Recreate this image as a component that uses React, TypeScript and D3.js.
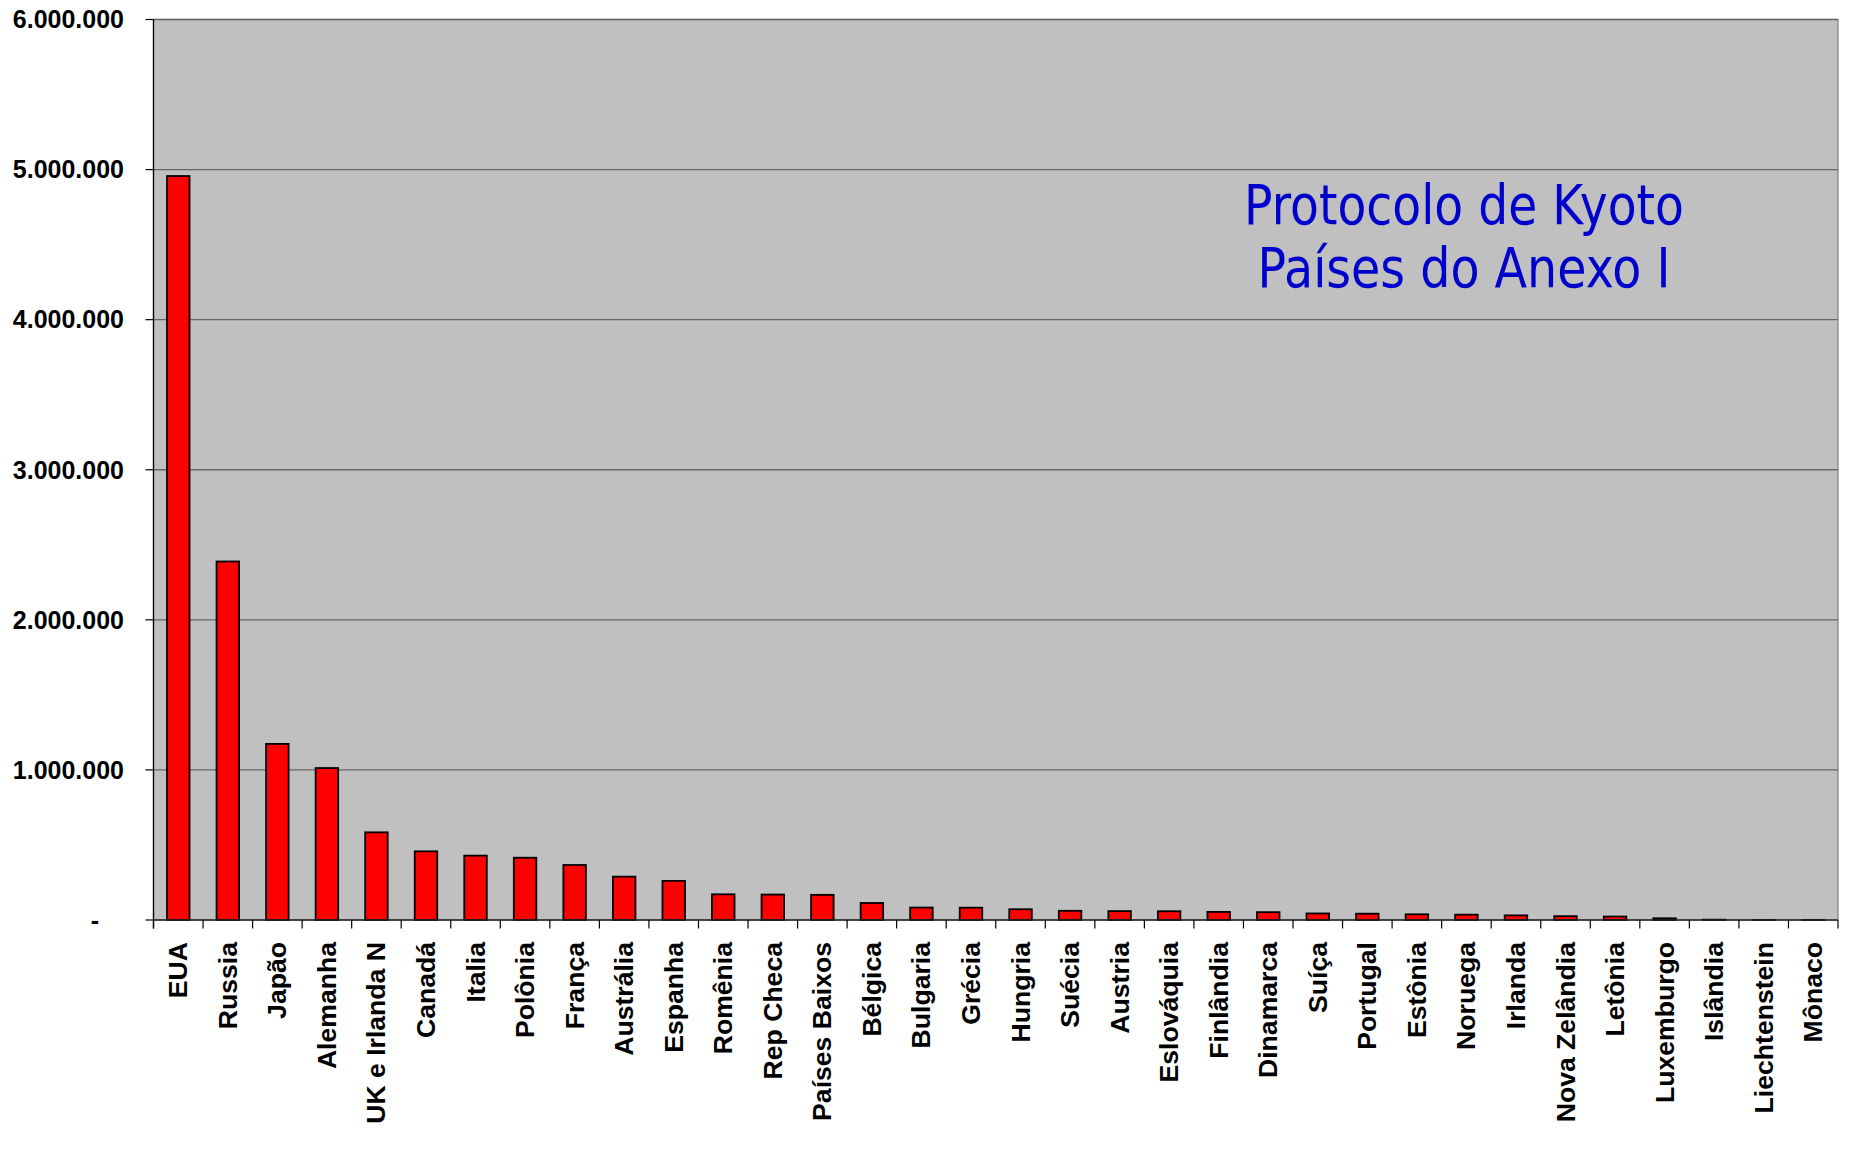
import React from "react";
import * as d3 from "d3";

const countries = [
  "EUA", "Russia", "Japão", "Alemanha", "UK e Irlanda N", "Canadá", "Italia", "Polônia",
  "França", "Austrália", "Espanha", "Romênia", "Rep Checa", "Países Baixos", "Bélgica",
  "Bulgaria", "Grécia", "Hungria", "Suécia", "Austria", "Eslováquia", "Finlândia",
  "Dinamarca", "Suíça", "Portugal", "Estônia", "Noruega", "Irlanda", "Nova Zelândia",
  "Letônia", "Luxemburgo", "Islândia", "Liechtenstein", "Mônaco",
];

const emissions = [
  4957022, 2388720, 1173360, 1012443, 584078, 457441, 428941, 414930,
  366536, 288965, 260654, 171103, 169514, 167600, 113405,
  82990, 82100, 71673, 61256, 59200, 58278, 53900,
  52100, 43600, 42148, 37797, 35533, 30719, 25530,
  22976, 11343, 2172, 208, 71,
];

const yTicks = [0, 1000000, 2000000, 3000000, 4000000, 5000000, 6000000];

const titleLines = ["Protocolo de Kyoto", "Países do Anexo I"];

const W = 1851;
const H = 1154;
const left = 153.5;
const right = 1838;
const top = 19.5;
const bottom = 920;

const locale = d3.formatLocale({ decimal: ",", thousands: ".", grouping: [3], currency: ["", ""] });
const fmt = locale.format(",d");

export default function App() {
  const x = d3.scaleBand<string>().domain(countries).range([left, right]).paddingInner(0).paddingOuter(0);
  const y = d3.scaleLinear().domain([0, 6000000]).range([bottom, top]);
  const bw = x.bandwidth() / 2.2;
  const boundaries = countries.map((c) => x(c) as number).concat([right]);

  return (
    <svg width={W} height={H} style={{ position: "absolute", left: 0, top: 0 }} xmlns="http://www.w3.org/2000/svg">
      <rect x={0} y={0} width={W} height={H} fill="#ffffff" />
      <rect x={left} y={top} width={right - left} height={bottom - top} fill="#C0C0C0" stroke="#808080" strokeWidth={1.2} />
      {yTicks.map((t) => (
        <g key={t}>
          {t > 0 && (
            <line x1={left} x2={right} y1={y(t)} y2={y(t)} stroke="#666666" strokeWidth={1.3} />
          )}
          <line x1={left - 8} x2={left} y1={y(t)} y2={y(t)} stroke="#000" strokeWidth={1.2} />
          <text
            x={t === 0 ? 99 : 124}
            y={y(t)}
            dy="0.35em"
            textAnchor="end"
            fontFamily="'Liberation Sans', Arial, sans-serif"
            fontWeight="bold"
            fontSize={25}
            fill="#000"
          >
            {t === 0 ? "-" : fmt(t)}
          </text>
        </g>
      ))}
      {countries.map((c, i) => {
        const cx = (x(c) as number) + x.bandwidth() / 2;
        const v = emissions[i];
        return (
          <rect
            key={c}
            x={cx - bw / 2}
            y={y(v)}
            width={bw}
            height={bottom - y(v)}
            fill="#FF0000"
            stroke="#000"
            strokeWidth={1.8}
          />
        );
      })}
      <line x1={left} x2={left} y1={top} y2={bottom + 8.5} stroke="#000" strokeWidth={1.3} />
      <line x1={left} x2={right} y1={bottom} y2={bottom} stroke="#222" strokeWidth={1.6} />
      {boundaries.map((b, i) => (
        <line key={i} x1={b} x2={b} y1={bottom} y2={bottom + 8.5} stroke="#000" strokeWidth={1.2} />
      ))}
      {countries.map((c) => {
        const cx = (x(c) as number) + x.bandwidth() / 2;
        return (
          <text
            key={c}
            transform={`translate(${cx + 9},${942}) rotate(-90)`}
            textAnchor="end"
            fontFamily="'Liberation Sans', Arial, sans-serif"
            fontWeight="bold"
            fontSize={26.6}
            fill="#000"
          >
            {c}
          </text>
        );
      })}
      {titleLines.map((t, i) => (
        <text
          key={t}
          x={1464}
          y={223.5 + i * 63.3}
          textAnchor="middle"
          fontFamily="'DejaVu Sans', Verdana, sans-serif"
          fontSize={55}
          fill="#0000CC"
          textLength={i === 0 ? 440 : 413}
          lengthAdjust="spacingAndGlyphs"
        >
          {t}
        </text>
      ))}
    </svg>
  );
}
